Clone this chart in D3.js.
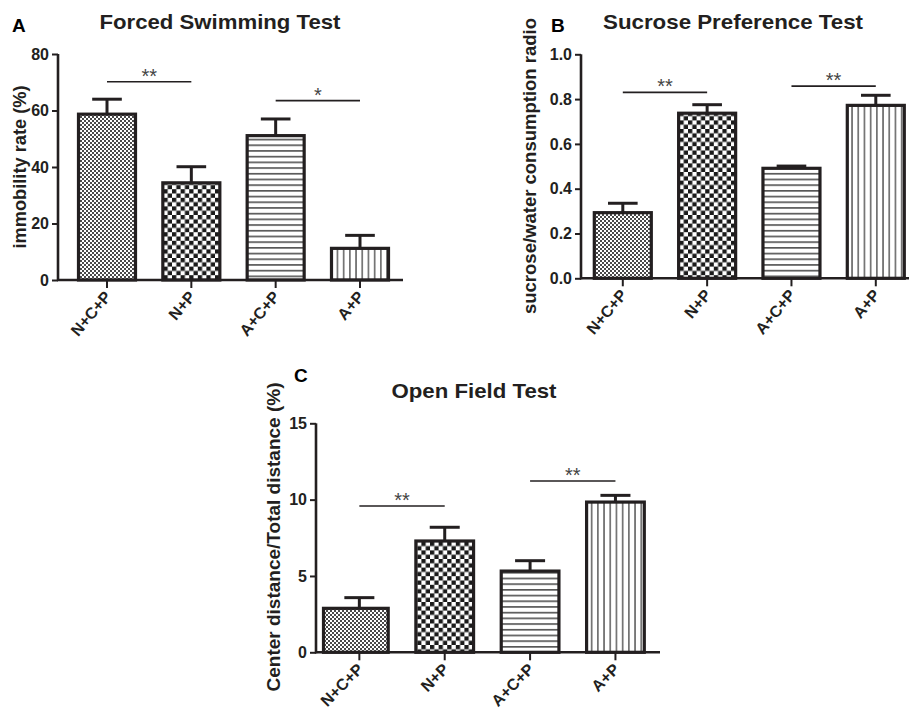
<!DOCTYPE html>
<html>
<head>
<meta charset="utf-8">
<script src="https://cdn.jsdelivr.net/npm/d3@7"></script>
<style>
  html, body { margin: 0; padding: 0; background: #fff; }
  svg { display: block; font-family: "Liberation Sans", Arial, sans-serif; }
</style>
</head>
<body>
<svg id="fig" width="909" height="714"></svg>
<script>
// ---------------- data ----------------
const categories = ["N+C+P", "N+P", "A+C+P", "A+P"];

const fstMean = [58.7, 34.4, 51.1, 11.2];
const fstErr  = [5.3, 5.7, 5.9, 4.6];
const fstTicks = [0, 20, 40, 60, 80];
const fstSig = [{from: 0, to: 1, y: 70.2, label: "**"}, {from: 2, to: 3, y: 63.5, label: "*"}];

const sptMean = [0.293, 0.737, 0.491, 0.772];
const sptErr  = [0.042, 0.038, 0.010, 0.045];
const sptTicks = [0, 0.2, 0.4, 0.6, 0.8, 1.0];
const sptSig = [{from: 0, to: 1, y: 0.830, label: "**"}, {from: 2, to: 3, y: 0.858, label: "**"}];

const oftMean = [2.88, 7.29, 5.32, 9.84];
const oftErr  = [0.70, 0.90, 0.68, 0.44];
const oftTicks = [0, 5, 10, 15];
const oftSig = [{from: 0, to: 1, y: 9.58, label: "**"}, {from: 2, to: 3, y: 11.22, label: "**"}];

const patterns = ["pFine", "pCoarse", "pHoriz", "pVert"];

// ---------------- drawing ----------------
const svg = d3.select("#fig");
const INK = "#231f20";
const defs = svg.append("defs");

// fine checker
let p = defs.append("pattern").attr("id", "pFine").attr("patternUnits", "userSpaceOnUse").attr("width", 4).attr("height", 4);
p.append("rect").attr("width", 4).attr("height", 4).attr("fill", "#fff");
p.append("rect").attr("x", 0).attr("y", 0).attr("width", 2).attr("height", 2).attr("fill", "#4a4a4a");
p.append("rect").attr("x", 2).attr("y", 2).attr("width", 2).attr("height", 2).attr("fill", "#4a4a4a");
// coarse checker
p = defs.append("pattern").attr("id", "pCoarse").attr("patternUnits", "userSpaceOnUse").attr("width", 8.6).attr("height", 8.6);
p.append("rect").attr("width", 8.6).attr("height", 8.6).attr("fill", "#fff");
p.append("rect").attr("x", 0).attr("y", 0).attr("width", 4.3).attr("height", 4.3).attr("fill", "#1a1a1a");
p.append("rect").attr("x", 4.3).attr("y", 4.3).attr("width", 4.3).attr("height", 4.3).attr("fill", "#1a1a1a");
// horizontal lines
p = defs.append("pattern").attr("id", "pHoriz").attr("patternUnits", "userSpaceOnUse").attr("width", 10).attr("height", 5.7);
p.append("rect").attr("width", 10).attr("height", 5.7).attr("fill", "#fff");
p.append("rect").attr("x", 0).attr("y", 2).attr("width", 10).attr("height", 1.5).attr("fill", "#444");
// vertical lines
p = defs.append("pattern").attr("id", "pVert").attr("patternUnits", "userSpaceOnUse").attr("width", 6.2).attr("height", 10);
p.append("rect").attr("width", 6.2).attr("height", 10).attr("fill", "#fff");
p.append("rect").attr("x", 2).attr("y", 0).attr("width", 1.3).attr("height", 10).attr("fill", "#444");

function drawPanel(cfg) {
  const g = svg.append("g");
  const x = d3.scaleBand().domain(categories).range(cfg.bandRange).paddingInner(0.324).paddingOuter(0);
  const y = d3.scaleLinear().domain([cfg.ticks[0], cfg.ticks[cfg.ticks.length - 1]]).range(cfg.yRange);
  const bw = x.bandwidth();
  const cx = c => x(c) + bw / 2;
  const ext = i => (i === 0 ? (cfg.firstBarExtend || 0) : 0);

  // bars
  g.selectAll("rect.bar").data(categories).enter().append("rect")
    .attr("x", (c, i) => x(c) - ext(i))
    .attr("y", (c, i) => y(cfg.mean[i]))
    .attr("width", (c, i) => bw + ext(i))
    .attr("height", (c, i) => y(0) - y(cfg.mean[i]))
    .attr("fill", (c, i) => `url(#${patterns[i]})`)
    .attr("stroke", INK).attr("stroke-width", 3.2);

  // error bars
  categories.forEach((c, i) => {
    const top = y(cfg.mean[i] + cfg.err[i]);
    g.append("line").attr("x1", cx(c)).attr("x2", cx(c))
      .attr("y1", y(cfg.mean[i])).attr("y2", top)
      .attr("stroke", INK).attr("stroke-width", 3);
    g.append("line").attr("x1", cx(c) - bw * 0.26).attr("x2", cx(c) + bw * 0.26)
      .attr("y1", top).attr("y2", top)
      .attr("stroke", INK).attr("stroke-width", 3);
  });

  // y axis
  const yAxis = d3.axisLeft(y).tickValues(cfg.ticks).tickFormat(cfg.fmt).tickSize(6).tickPadding(3);
  const ya = g.append("g").attr("transform", `translate(${cfg.x0},0)`).call(yAxis);
  ya.select(".domain").remove();
  ya.selectAll(".tick line").attr("stroke", INK).attr("stroke-width", 2);
  ya.selectAll(".tick text").attr("font-size", 16).attr("font-weight", "bold").attr("fill", INK)
    .attr("font-family", "Liberation Sans, Arial, sans-serif");
  g.append("line").attr("x1", cfg.x0).attr("x2", cfg.x0).attr("y1", y(0) + 1).attr("y2", cfg.yRange[1])
    .attr("stroke", INK).attr("stroke-width", 2.6);

  // x axis
  const xAxis = d3.axisBottom(x).tickSize(8).tickPadding(4);
  const xa = g.append("g").attr("transform", `translate(0,${y(0)})`).call(xAxis);
  xa.select(".domain").remove();
  xa.selectAll(".tick line").attr("stroke", INK).attr("stroke-width", 2);
  xa.selectAll(".tick text")
    .attr("font-size", 16).attr("font-weight", "bold").attr("fill", INK)
    .attr("font-family", "Liberation Sans, Arial, sans-serif")
    .attr("text-anchor", "end")
    .attr("dy", null)
    .attr("transform", `translate(${cfg.lblDx},${cfg.lblDy}) rotate(${cfg.lblRot})`)
    .attr("y", 0).attr("x", 0);
  g.append("line").attr("x1", cfg.x0 - 1).attr("x2", cfg.axisEnd).attr("y1", y(0)).attr("y2", y(0))
    .attr("stroke", INK).attr("stroke-width", 2.6);

  // significance
  cfg.sig.forEach(s => {
    const x1 = cx(categories[s.from]), x2 = cx(categories[s.to]);
    g.append("line").attr("x1", x1).attr("x2", x2).attr("y1", y(s.y)).attr("y2", y(s.y))
      .attr("stroke", INK).attr("stroke-width", 1.6);
    g.append("text").attr("x", (x1 + x2) / 2).attr("y", y(s.y) + 1)
      .attr("text-anchor", "middle").attr("font-size", 20).attr("fill", "#444").text(s.label);
  });

  // title & panel letter
  g.append("text").attr("x", cfg.titleX).attr("y", cfg.titleY).attr("text-anchor", "middle")
    .attr("font-size", 21).attr("font-weight", "bold").attr("fill", INK)
    .attr("textLength", cfg.titleLen).attr("lengthAdjust", "spacingAndGlyphs").text(cfg.title);
  g.append("text").attr("x", cfg.letterX).attr("y", cfg.letterY)
    .attr("font-size", 19).attr("font-weight", "bold").attr("fill", "#000").text(cfg.letter);

  // y label
  g.append("text").attr("transform", `translate(${cfg.ylabX},${cfg.ylabY}) rotate(-90)`)
    .attr("text-anchor", "middle").attr("font-size", 18).attr("font-weight", "bold").attr("fill", INK)
    .attr("textLength", cfg.ylabLen).attr("lengthAdjust", "spacingAndGlyphs").text(cfg.ylabel);
}

drawPanel({
  mean: fstMean, err: fstErr, ticks: fstTicks, sig: fstSig, fmt: d3.format("d"),
  x0: 58, axisEnd: 403, bandRange: [78.5, 388.5], yRange: [280, 54],
  title: "Forced Swimming Test", titleX: 220, titleY: 29, titleLen: 241,
  letter: "A", letterX: 12, letterY: 32,
  ylabel: "immobility rate (%)", ylabX: 26, ylabY: 167, ylabLen: 163,
  lblDx: 5, lblDy: 17, lblRot: -50
});
drawPanel({
  mean: sptMean, err: sptErr, ticks: sptTicks, sig: sptSig, fmt: d3.format(".1f"),
  x0: 581, axisEnd: 909, bandRange: [594.3, 904.3], yRange: [278.3, 54.3],
  title: "Sucrose Preference Test", titleX: 733, titleY: 29, titleLen: 260,
  letter: "B", letterX: 551, letterY: 32,
  ylabel: "sucrose/water consumption radio", ylabX: 536, ylabY: 166, ylabLen: 296,
  lblDx: 5, lblDy: 17, lblRot: -50
});
drawPanel({
  mean: oftMean, err: oftErr, ticks: oftTicks, sig: oftSig, fmt: d3.format("d"),
  x0: 316, axisEnd: 660, bandRange: [330.5, 644.3], yRange: [652.3, 423.3],
  title: "Open Field Test", titleX: 474, titleY: 398, titleLen: 165,
  letter: "C", letterX: 294, letterY: 382,
  ylabel: "Center distance/Total distance (%)", ylabX: 280, ylabY: 537, ylabLen: 309,
  lblDx: 5, lblDy: 18, lblRot: -45, firstBarExtend: 7
});
</script>
</body>
</html>
